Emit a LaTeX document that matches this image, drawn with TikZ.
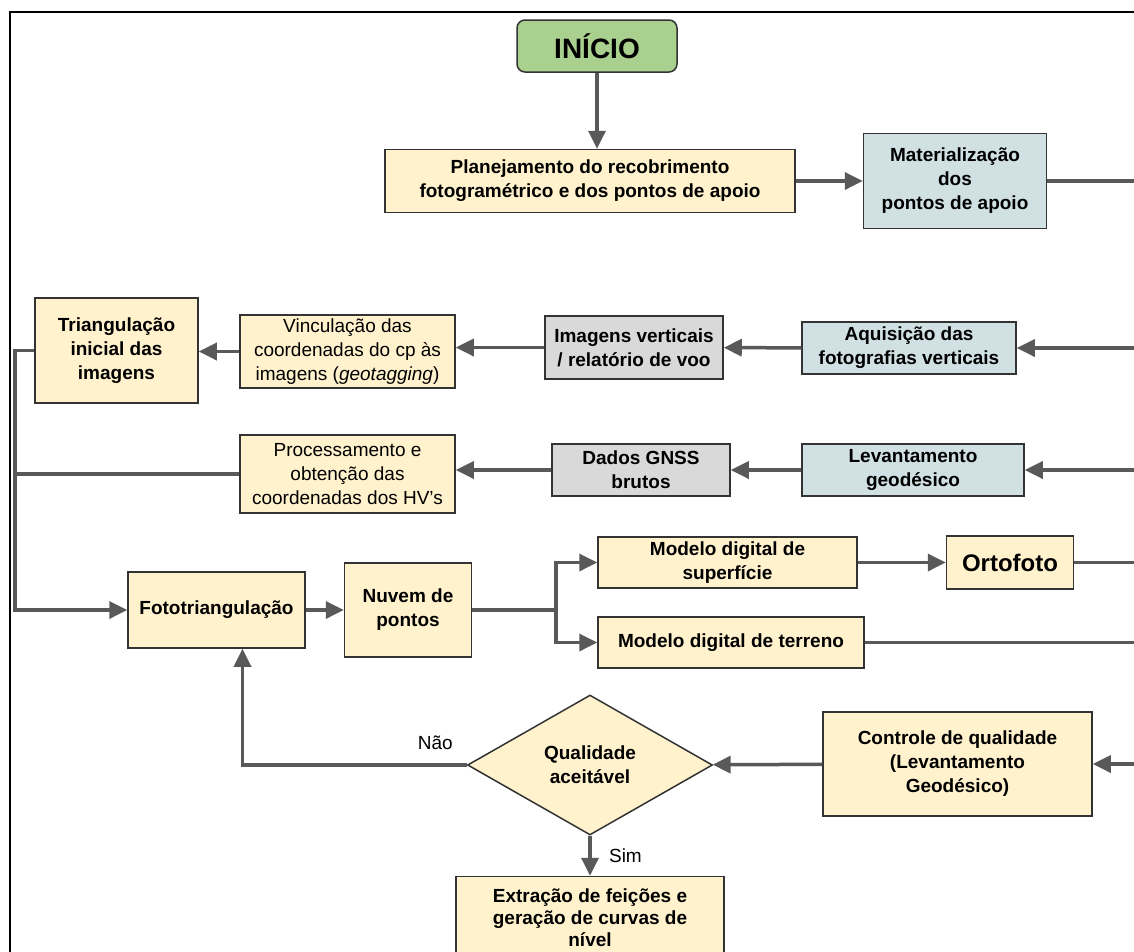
\documentclass[tikz,border=0pt]{standalone}
\usepackage{fontspec}
\setmainfont{Liberation Sans}
\usepackage{xcolor}
\usetikzlibrary{positioning, shapes.geometric, arrows.meta, calc}
\definecolor{boxYellow}{HTML}{FFF2CC}
\definecolor{boxBlue}{HTML}{D0E0E3}
\definecolor{boxGrey}{HTML}{D9D9D9}
\definecolor{boxGreen}{HTML}{A9D08E}
\definecolor{edgeGrey}{HTML}{595959}
\definecolor{frameDark}{HTML}{333333}
\tikzset{
	every node/.style={
		align=center,
	},
	box/.style={draw=frameDark, line width=1.5pt, inner sep=3pt,
		font=\bfseries\fontsize{19}{24}\selectfont},
	plain/.style={box, font=\fontsize{19}{24}\selectfont},
	yellowbox/.style={box, fill=boxYellow},
	bluebox/.style={box, fill=boxBlue},
	greybox/.style={box, fill=boxGrey},
	flow/.style={draw=edgeGrey, line width=3.5pt, -{Triangle[length=18pt,width=17pt]}},
	link/.style={draw=edgeGrey, line width=3.5pt},
	answer/.style={font=\fontsize{19}{24}\selectfont},
}

\begin{document}
\begin{tikzpicture}[x=1pt, y=-1pt]
    \useasboundingbox (0,0) rectangle (1134,951);
    \clip (0,0) rectangle (1134,951);
    \draw[black, line width=2pt] (10,960) -- (10,12) -- (1140,12);

    \node[box, fill=boxGreen, rounded corners=8pt, minimum width=160pt, minimum height=52pt, font=\bfseries\fontsize{28}{30}\selectfont] (inicio) at (597,46) {INÍCIO};
    \node[yellowbox, minimum width=410pt, minimum height=63pt] (plan) at (590,181) {Planejamento do recobrimento\\fotogramétrico e dos pontos de apoio};
    \node[bluebox, right=67pt of plan, minimum width=183pt, minimum height=95pt] (mat) {Materialização\\dos\\pontos de apoio};

    \node[yellowbox, minimum width=163pt, minimum height=105pt] (tri) at (116.5,350.5) {Triangulação\\inicial das\\imagens};
    \node[plain, fill=boxYellow, minimum width=215pt, minimum height=73pt] (vinc) at (347.5,351.5) {Vinculação das\\coordenadas do cp às\\imagens (\textit{geotagging})};
    \node[greybox, minimum width=178pt, minimum height=63pt] (img) at (634,347.5) {Imagens verticais\\/ relatório de voo};
    \node[bluebox, minimum width=214pt, minimum height=52pt] (aqu) at (909,348) {Aquisição das\\fotografias verticais};

    \node[plain, fill=boxYellow, minimum width=215pt, minimum height=78pt] (proc) at (347.5,474) {Processamento e\\obtenção das\\coordenadas dos HV’s};
    \node[greybox, minimum width=178pt, minimum height=52pt] (gnss) at (641,470) {Dados GNSS\\brutos};
    \node[bluebox, minimum width=222pt, minimum height=52pt] (lev) at (913,470) {Levantamento\\geodésico};

    \node[yellowbox, minimum width=177pt, minimum height=76pt] (foto) at (216.5,610) {Fototriangulação};
    \node[yellowbox, right=38pt of foto, minimum width=127pt, minimum height=94pt] (nuvem) {Nuvem de\\pontos};
    \node[yellowbox, minimum width=259pt, minimum height=51pt] (mds) at (727.5,562.5) {Modelo digital de\\superfície};
    \node[yellowbox, right=88pt of mds, minimum width=127pt, minimum height=53pt, font=\bfseries\fontsize{24}{28}\selectfont] (orto) {Ortofoto};
    \node[yellowbox, minimum width=266pt, minimum height=51pt] (mdt) at (731,642.5) {Modelo digital de terreno};

    \node[yellowbox, diamond, inner sep=0pt, minimum width=245pt, minimum height=140pt] (qual) at (590,765) {Qualidade\\aceitável};
    \node[yellowbox, minimum width=269pt, minimum height=104pt] (ctrl) at (957.5,764) {Controle de qualidade\\(Levantamento\\Geodésico)};
    \node[yellowbox, below=40pt of qual, minimum width=268pt, minimum height=82pt, font=\bfseries\fontsize{19}{22}\selectfont] (extr) {Extração de feições e\\geração de curvas de\\nível};

    \coordinate (trunk) at (15,0);
    \coordinate (split) at (556,610);
    \coordinate (edgeMat) at (1140,181);
    \coordinate (edgeAqu) at (1140,348);
    \coordinate (edgeLev) at (1140,470);
    \coordinate (edgeRight) at (1140,0);
    \coordinate (edgeCtrl) at (1140,764);

    \draw[flow] (inicio.south) -- (inicio.south |- plan.north);
    \draw[flow] (plan) -- (mat);
    \draw[link] (mat) -- (edgeMat);

    \draw[flow] (edgeAqu) -- (aqu);
    \draw[flow] (aqu) -- (img);
    \draw[flow] (img.west) -- (img.west -| vinc.east);
    \draw[flow] (vinc.west) -- (vinc.west -| tri.east);

    \draw[flow] (edgeLev) -- (lev);
    \draw[flow] (lev) -- (gnss);
    \draw[flow] (gnss.west) -- (gnss.west -| proc.east);
    \draw[link] (proc.west) -- (proc.west -| trunk);
    \draw[flow] (tri.west) -- (tri.west -| trunk) |- (foto.west);

    \draw[flow] (foto) -- (nuvem);
    \draw[link] (nuvem.east) -- (split);
    \draw[flow] (split) |- (mds.west);
    \draw[flow] (split) |- (mdt.west);
    \draw[flow] (mds) -- (orto);
    \draw[link] (orto.east) -- (orto.east -| edgeRight);
    \draw[link] (mdt.east) -- (mdt.east -| edgeRight);

    \draw[flow] (edgeCtrl) -- (ctrl);
    \draw[flow] (ctrl) -- (qual);
    \draw[flow] (qual.west) -| ([xshift=26pt]foto.south) node[answer, pos=0.07, above=10pt] {Não};
    \draw[flow] (qual.south) -- (extr.north) node[answer, midway, right=14pt] {Sim};

\end{tikzpicture}
\end{document}
